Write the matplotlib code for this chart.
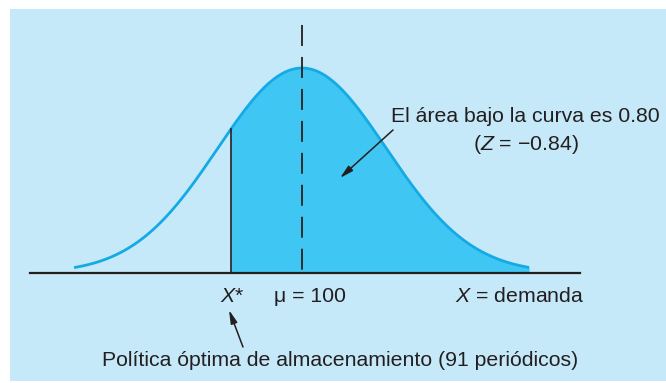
import numpy as np
import matplotlib.pyplot as plt
from matplotlib.patches import Rectangle

plt.rcParams["mathtext.fontset"] = "custom"
plt.rcParams["mathtext.it"] = "Liberation Sans:italic"
plt.rcParams["mathtext.rm"] = "Liberation Sans"

# values of the figure
mu = 100
x_star = 91
z_star = -0.84
area = 0.80
sigma = (x_star - mu) / z_star
curve_lo, curve_hi = 71.1, 128.8
axis_lo, axis_hi = 65.5, 135.2

bg = "#c6e9f9"
fill_c = "#40c6f2"
line_c = "#14aae6"
ink = "#231f20"

W, H = 666, 383
fig = plt.figure(figsize=(W / 100, H / 100), dpi=100)
fig.patch.set_facecolor("white")

ax = fig.add_axes([0, 0, 1, 1])
ax.set_facecolor("none")
ax.axis("off")
ax.add_patch(Rectangle((10 / W, 2 / H), 1 - 10 / W, 1 - 11 / H,
                       transform=ax.transAxes, facecolor=bg,
                       edgecolor="none", zorder=0))

def pdf(x):
    return np.exp(-0.5 * ((x - mu) / sigma) ** 2) / (sigma * np.sqrt(2 * np.pi))

peak = pdf(mu)
# pixel mapping: mu at px 302, baseline at px 273, peak at px 68
ppu = 84.5 / sigma
ax.set_xlim(mu - 302 / ppu, mu + (W - 302) / ppu)
ppy = 205 / peak
ax.set_ylim(-(H - 273) / ppy, 273 / ppy)

def px(x, y):
    return (mu + (x - 302) / ppu, (273 - y) / ppy)

xs = np.linspace(curve_lo, curve_hi, 400)
ax.plot(xs, pdf(xs), color=line_c, lw=2.0, zorder=3, solid_capstyle="butt")
xf = np.linspace(x_star, curve_hi, 300)
ax.fill_between(xf, 0, pdf(xf), color=fill_c, lw=0, zorder=2)

ax.plot([axis_lo, axis_hi], [0, 0], color=ink, lw=1.6, zorder=4)
ax.plot([x_star, x_star], [0, pdf(x_star)], color=ink, lw=1.2, zorder=4)
ax.plot([mu, mu], [248 / ppy, 0], color=ink, lw=1.3, zorder=4,
        dashes=(11.6, 6.1))

fs = 15.3
fam = ["Liberation Sans", "DejaVu Sans"]
ax.text(*px(660, 117), "El área bajo la curva es 0.80",
        ha="right", va="center", fontsize=fs, color=ink, family=fam)
ax.text(*px(526, 144), r"($\it{Z}$ = −0.84)",
        ha="center", va="center", fontsize=fs, color=ink, family=fam)
ax.text(*px(232, 297), r"$\it{X}$*", ha="center", va="center",
        fontsize=fs, color=ink, family=fam)
ax.text(*px(310, 297), "μ = 100", ha="center",
        va="center", fontsize=fs, color=ink, family=fam)
ax.text(*px(584, 297), r"$\it{X}$ = demanda", ha="right",
        va="center", fontsize=fs, color=ink, family=fam)
ax.text(*px(340, 360),
        "Política óptima de almacenamiento (91 periódicos)",
        ha="center", va="center", fontsize=fs, color=ink, family=fam)

ax.annotate("", xy=px(340, 178), xytext=px(393, 130),
            arrowprops=dict(arrowstyle="-|>,head_length=0.8,head_width=0.2",
                            color=ink, lw=1.1, shrinkA=0, shrinkB=0), zorder=5)
ax.annotate("", xy=px(229, 310), xytext=px(243, 347),
            arrowprops=dict(arrowstyle="-|>,head_length=0.8,head_width=0.2",
                            color=ink, lw=1.1, shrinkA=0, shrinkB=0), zorder=5)

fig.savefig("out.png", dpi=100)
